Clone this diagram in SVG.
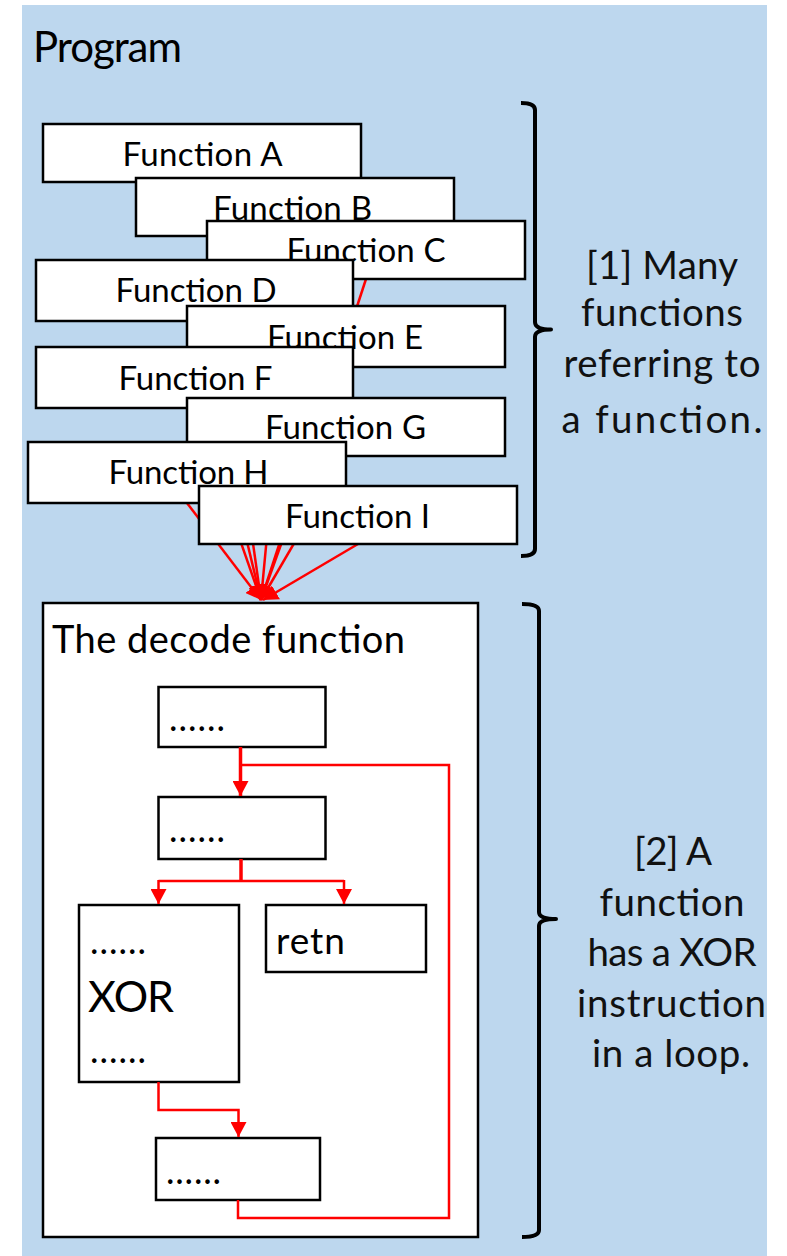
<svg xmlns="http://www.w3.org/2000/svg" width="787" height="1256" viewBox="0 0 787 1256">
<style>
  .t { font-family: Lato, 'Open Sans', 'Liberation Sans', sans-serif; fill: #000; }
  .fn { font-size: 33px; text-anchor: middle; }
  .side { font-size: 38.5px; text-anchor: middle; fill: #111; }
  .dots { font-size: 36px; }
  .box { fill: #fff; stroke: #000; stroke-width: 2.5; }
  .red { stroke: #f00; fill: none; stroke-width: 2.5; }
  .stem { stroke-width: 3.5; }
  .brace { stroke: #000; fill: none; stroke-width: 4; stroke-linejoin: round; }
</style>
<defs>
  <marker id="ah" viewBox="0 0 16 16" markerWidth="16" markerHeight="16" refX="15" refY="8" orient="auto" markerUnits="userSpaceOnUse">
    <path d="M0,0 L15,8 L0,16 z" fill="#f00"/>
  </marker>
</defs>
<rect x="22" y="5" width="745" height="1251" fill="#BDD7EE"/>
<text class="t" x="33" y="62" font-size="42" textLength="149">Program</text>

<g id="brace1">
  <path class="brace" d="M521,103 Q535,103 535,110 V322 Q535,329.5 551,329.5 Q535,329.5 535,337 V549 Q535,556 521,556"/>
  <text class="t side" x="662" y="279" textLength="152">[1] Many</text>
  <text class="t side" x="662" y="326" textLength="162">functions</text>
  <text class="t side" x="662" y="377" textLength="197">referring to</text>
  <text class="t side" x="662" y="433" font-size="44" textLength="201">a function.</text>
</g>
<g id="brace2">
  <path class="brace" d="M522,604 Q539,604 539,611 V912 Q539,919 556,919 Q539,919 539,926 V1230 Q539,1237 522,1237"/>
  <text class="t side" x="673" y="865" textLength="78">[2] A</text>
  <text class="t side" x="672" y="915.5" textLength="145">function</text>
  <text class="t side" x="672" y="966" textLength="169">has a XOR</text>
  <text class="t side" x="671.5" y="1016.5" textLength="189">instruction</text>
  <text class="t side" x="671" y="1067" textLength="158">in a loop.</text>
</g>

<g id="decode">
  <rect class="box" x="43" y="603" width="435" height="634"/>
  <text class="t" x="52" y="653" font-size="38" textLength="353">The decode function</text>
</g>
<g id="blk1">
  <rect class="box" x="158.5" y="687" width="167" height="60"/>
  <text class="t dots" x="169" y="731" textLength="56">......</text>
</g>
<g id="blk2">
  <rect class="box" x="158.5" y="797" width="167" height="62"/>
  <text class="t dots" x="169" y="842" textLength="56">......</text>
</g>
<g id="blk3">
  <rect class="box" x="79" y="905" width="160" height="177"/>
  <text class="t dots" x="90" y="954" textLength="56">......</text>
  <text class="t" x="88" y="1012" font-size="43" textLength="86">XOR</text>
  <text class="t dots" x="90" y="1063" textLength="56">......</text>
</g>
<g id="retn">
  <rect class="box" x="266" y="905" width="160" height="67"/>
  <text class="t" x="276" y="954" font-size="37" textLength="69">retn</text>
</g>
<g id="blk4">
  <rect class="box" x="156" y="1138" width="164" height="62"/>
  <text class="t dots" x="166" y="1184" textLength="55">......</text>
</g>

<g id="connectors">
  <line class="red" x1="202" y1="182" x2="261" y2="600" marker-end="url(#ah)"/>
  <line class="red" x1="295" y1="236" x2="261" y2="600" marker-end="url(#ah)"/>
  <line class="red" x1="366" y1="279" x2="261" y2="600" marker-end="url(#ah)"/>
  <line class="red" x1="194" y1="321" x2="261" y2="600" marker-end="url(#ah)"/>
  <line class="red" x1="345" y1="367" x2="261" y2="600" marker-end="url(#ah)"/>
  <line class="red" x1="194" y1="408" x2="261" y2="600" marker-end="url(#ah)"/>
  <line class="red" x1="345" y1="456" x2="261" y2="600" marker-end="url(#ah)"/>
  <line class="red" x1="187" y1="503" x2="261" y2="600" marker-end="url(#ah)"/>
  <line class="red" x1="358" y1="544" x2="263" y2="600" marker-end="url(#ah)"/>

  <line class="red stem" x1="240.5" y1="747" x2="240.5" y2="796" marker-end="url(#ah)"/>
  <polyline class="red" points="238,1200 238,1218 449,1218 449,765 240.5,765"/>
  <line class="red stem" x1="241" y1="859" x2="241" y2="881"/>
  <polyline class="red" points="158.5,881 344,881"/>
  <line class="red" x1="158.5" y1="880" x2="158.5" y2="904" marker-end="url(#ah)"/>
  <line class="red" x1="344" y1="880" x2="344" y2="904" marker-end="url(#ah)"/>
  <polyline class="red" points="158.5,1082 158.5,1110 238.5,1110 238.5,1137" marker-end="url(#ah)"/>
</g>

<g id="fnA"><rect class="box" x="43" y="124" width="318" height="58"/><text class="t fn" x="202.5" y="166" textLength="160">Function A</text></g>
<g id="fnB"><rect class="box" x="136" y="178" width="318" height="58"/><text class="t fn" x="292.5" y="219.5" textLength="159">Function B</text></g>
<g id="fnC"><rect class="box" x="207" y="221" width="318" height="58"/><text class="t fn" x="366" y="262" textLength="159">Function C</text></g>
<g id="fnD"><rect class="box" x="36" y="260" width="317" height="61"/><text class="t fn" x="196" y="302" textLength="161">Function D</text></g>
<g id="fnE"><rect class="box" x="187" y="306" width="318" height="61"/><text class="t fn" x="345" y="348.5" textLength="156">Function E</text></g>
<g id="fnF"><rect class="box" x="36" y="347" width="317" height="61"/><text class="t fn" x="195.5" y="389.5" textLength="154">Function F</text></g>
<g id="fnG"><rect class="box" x="187" y="398" width="318" height="58"/><text class="t fn" x="345.5" y="439" textLength="161">Function G</text></g>
<g id="fnH"><rect class="box" x="28" y="442" width="318" height="61"/><text class="t fn" x="188.5" y="484" textLength="160">Function H</text></g>
<g id="fnI"><rect class="box" x="199" y="486" width="318" height="58"/><text class="t fn" x="357.5" y="527.5" textLength="145">Function I</text></g>
</svg>
